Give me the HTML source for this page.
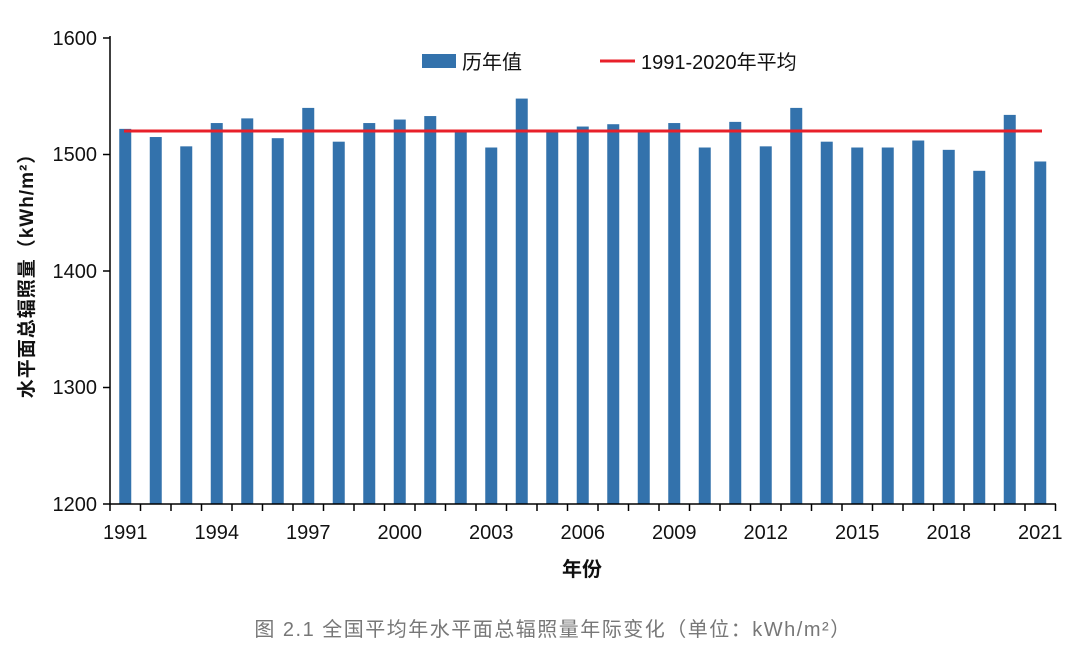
<!DOCTYPE html>
<html><head><meta charset="utf-8"><style>body{margin:0;background:#fff}svg{display:block}</style></head><body>
<svg width="1080" height="650" xmlns="http://www.w3.org/2000/svg" font-family="Liberation Sans, Noto Sans CJK SC, sans-serif">
<g id="bars" fill="#3372ac"></g>
<line x1="110" y1="36" x2="110" y2="504" stroke="#000" stroke-width="1.5"/>
<line x1="110" y1="504" x2="1056" y2="504" stroke="#000" stroke-width="1.5"/>
<g stroke="#000" stroke-width="1.5">
<line x1="103" y1="38" x2="110" y2="38"/><line x1="103" y1="154.5" x2="110" y2="154.5"/><line x1="103" y1="271" x2="110" y2="271"/><line x1="103" y1="387.5" x2="110" y2="387.5"/><line x1="103" y1="504" x2="110" y2="504"/>
</g>
<g id="xt" stroke="#000" stroke-width="1.5"></g>
<g font-size="20" fill="#111" text-anchor="end">
<text x="97" y="45">1600</text><text x="97" y="161">1500</text><text x="97" y="278">1400</text><text x="97" y="394">1300</text><text x="97" y="511">1200</text>
</g>
<g id="xl" font-size="20" fill="#111" text-anchor="middle"></g>
<line x1="124" y1="131" x2="1042" y2="131" stroke="#e8202a" stroke-width="3"/>
<rect x="422" y="54" width="34" height="14" fill="#3372ac"/>
<text x="462" y="69" font-size="20" fill="#111">历年值</text>
<line x1="600" y1="61" x2="635" y2="61" stroke="#e8202a" stroke-width="3"/>
<text x="641" y="69" font-size="20" fill="#111">1991-2020年平均</text>
<text x="582" y="576" font-size="20" font-weight="bold" fill="#111" text-anchor="middle">年份</text>
<text transform="translate(33,271) rotate(-90)" font-size="19" font-weight="bold" fill="#111" text-anchor="middle" letter-spacing="1">水平面总辐照量（kWh/m²）</text>
<text x="553" y="636" font-size="20" fill="#777" text-anchor="middle" letter-spacing="1.5">图 2.1    全国平均年水平面总辐照量年际变化（单位：kWh/m²）</text>
</svg>
<script>
var v=[1522,1515,1507,1527,1531,1514,1540,1511,1527,1530,1533,1520,1506,1548,1520,1524,1526,1519,1527,1506,1528,1507,1540,1511,1506,1506,1512,1504,1486,1534,1494];
var ns="http://www.w3.org/2000/svg",b=document.getElementById('bars'),xt=document.getElementById('xt'),xl=document.getElementById('xl');
for(var i=0;i<31;i++){var c=110+30.5*(i+0.5);var y=504-(v[i]-1200)*1.165;
var r=document.createElementNS(ns,'rect');r.setAttribute('x',c-6);r.setAttribute('y',y);r.setAttribute('width',12);r.setAttribute('height',504-y);b.appendChild(r);
if(i%3==0){var t=document.createElementNS(ns,'text');t.setAttribute('x',c);t.setAttribute('y',539);t.textContent=1991+i;xl.appendChild(t);}}
for(var i=0;i<=31;i++){var x=110+30.5*i;var l=document.createElementNS(ns,'line');l.setAttribute('x1',x);l.setAttribute('x2',x);l.setAttribute('y1',504);l.setAttribute('y2',511);xt.appendChild(l);}
</script>
</body></html>
